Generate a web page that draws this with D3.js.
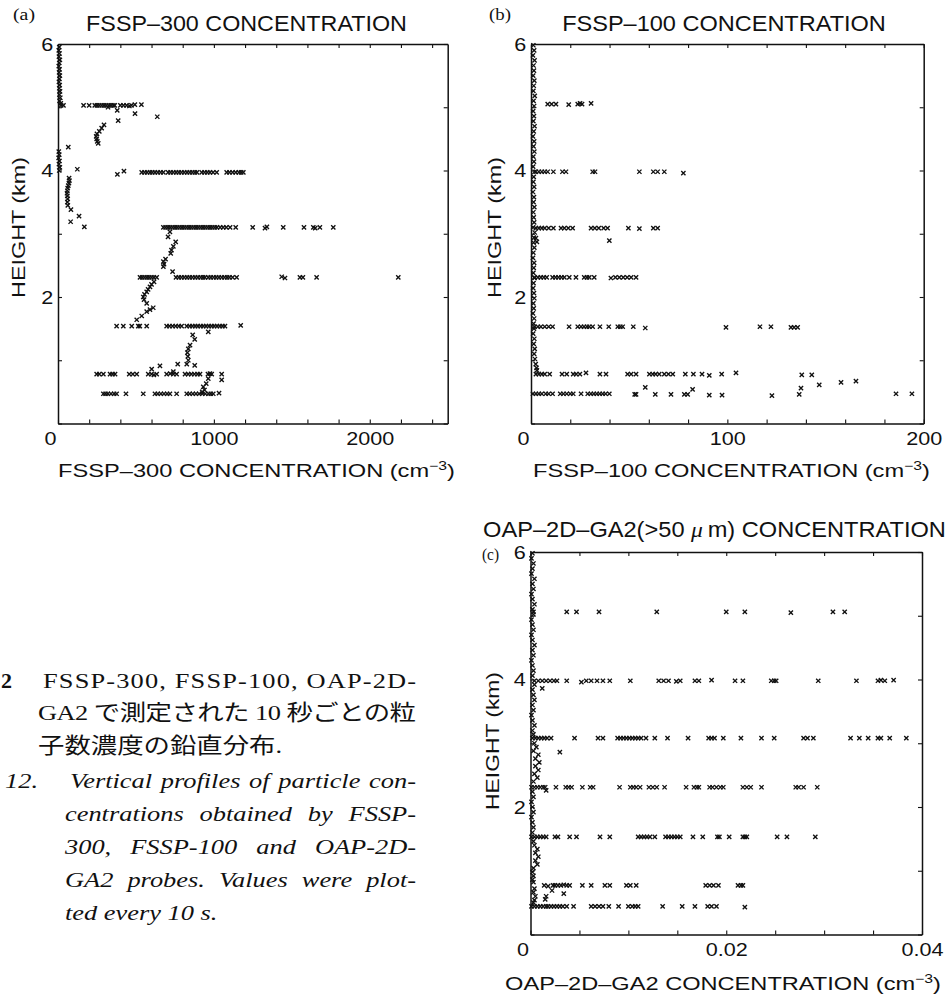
<!DOCTYPE html>
<html><head><meta charset="utf-8">
<script src="https://cdn.jsdelivr.net/npm/d3@7"></script>
<style>html,body{margin:0;padding:0;background:#fff}</style>
</head><body>
<svg id="chart" width="952" height="996"></svg>
<script>
// ---------------- DATA ----------------
const heightTicks = [0, 1, 2, 3, 4, 5, 6];
const heightLabels = [2, 4, 6];
const fssp300Ticks = [0, 200, 400, 600, 800, 1000, 1200, 1400, 1600, 1800, 2000, 2200, 2400];
const fssp300Labels = [0, 1000, 2000];
const fssp100Ticks = [0, 20, 40, 60, 80, 100, 120, 140, 160, 180, 200];
const fssp100Labels = [0, 100, 200];
const oapTicks = [0, 0.005, 0.01, 0.015, 0.02, 0.025, 0.03, 0.035, 0.04];
const oapLabels = [0, 0.02, 0.04];

// [concentration, height km]
const fssp300Column = [[8,5.95],[5,5.9],[10,5.85],[6,5.8],[12,5.75],[8,5.7],[5,5.65],[10,5.6],[7,5.55],[12,5.5],[9,5.45],[6,5.4],[11,5.35],[8,5.3],[13,5.25],[9,5.2],[15,5.15],[10,5.1],[18,5.06],
  [5,4.3],[8,4.25],[4,4.2],[10,4.15],[6,4.1],[12,4.05],[8,4.0]];
const fssp300Legs = [
  [20,5.03],[35,5.03],[164,5.03],[200,5.03],[236,5.03],[250,5.03],[265,5.03],[280,5.03],[295,5.03],[310,5.03],[325,5.03],[340,5.03],[355,5.03],[364,5.03],[400,5.03],[420,5.03],[440,5.03],[458,5.02],[471,5.03],[493,5.04],[535,5.04],
  [537,3.97],[555,3.97],[572,3.97],[590,3.97],[605,3.97],[622,3.97],[640,3.97],[658,3.97],[676,3.97],[706,3.97],[722,3.97],[740,3.97],[758,3.97],[775,3.97],[792,3.97],[810,3.97],[828,3.97],[845,3.97],[862,3.97],[878,3.97],[892,3.97],[922,3.97],[940,3.97],[958,3.97],[975,3.97],[995,3.97],[1018,3.97],[1082,3.97],[1100,3.97],[1120,3.97],[1140,3.97],[1160,3.97],[1175,3.97],[1189,3.97],
  [676,3.1],[690,3.1],[705,3.1],[720,3.1],[735,3.1],[750,3.1],[765,3.1],[780,3.1],[795,3.1],[810,3.1],[825,3.1],[840,3.1],[855,3.1],[870,3.1],[885,3.1],[900,3.1],[915,3.1],[930,3.1],[945,3.1],[960,3.1],[975,3.1],[990,3.1],[1005,3.1],[1020,3.1],[1040,3.1],[1060,3.1],[1080,3.1],[1104,3.1],[1140,3.1],[1249,3.1],[1328,3.09],[1340,3.11],[1445,3.1],[1578,3.1],[1638,3.1],[1650,3.09],[1680,3.1],[1766,3.1],
  [526,2.31],[540,2.31],[555,2.31],[570,2.31],[585,2.31],[600,2.31],[615,2.31],[633,2.31],[757,2.31],[775,2.31],[792,2.31],[810,2.31],[828,2.31],[845,2.31],[862,2.31],[880,2.31],[897,2.31],[915,2.31],[930,2.31],[943,2.31],[964,2.31],[980,2.31],[998,2.31],[1015,2.31],[1032,2.31],[1050,2.31],[1068,2.31],[1085,2.31],[1100,2.31],[1120,2.31],[1146,2.31],[1435,2.32],[1456,2.3],[1552,2.31],[1571,2.31],[1659,2.31],[2183,2.31],
  [376,1.54],[419,1.54],[473,1.54],[515,1.54],[525,1.54],[569,1.54],[697,1.54],[715,1.54],[735,1.54],[755,1.54],[775,1.54],[793,1.54],[826,1.54],[845,1.54],[862,1.54],[880,1.54],[897,1.54],[915,1.54],[932,1.54],[950,1.54],[968,1.54],[985,1.54],[1002,1.54],[1020,1.54],[1038,1.54],[1055,1.54],[1071,1.54],[1172,1.55],
  [248,0.78],[265,0.78],[291,0.78],[334,0.78],[350,0.78],[366,0.78],[457,0.78],[480,0.78],[505,0.78],[579,0.78],[600,0.78],[615,0.77],[633,0.78],[697,0.78],[720,0.79],[740,0.78],[761,0.78],[815,0.78],[835,0.78],[855,0.78],[875,0.78],[895,0.78],[911,0.78],[962,0.78],[975,0.79],[986,0.78],[1050,0.78],
  [291,0.47],[305,0.47],[320,0.47],[340,0.47],[360,0.47],[376,0.47],[436,0.47],[547,0.47],[622,0.47],[640,0.47],[660,0.47],[680,0.47],[700,0.47],[718,0.47],[761,0.47],[826,0.47],[845,0.47],[865,0.47],[885,0.47],[905,0.47],[925,0.47],[945,0.47],[965,0.47],[980,0.47],[996,0.47],[1033,0.48]];
const fssp300Profile = [
  [321,5.0],[380,4.95],[494,4.9],[637,4.85],[386,4.79],
  [295,4.72],[280,4.67],[265,4.62],[250,4.58],[245,4.54],[248,4.5],[252,4.46],[258,4.43],
  [66,4.37],[124,4.02],[381,3.94],[423,3.99],
  [71,3.88],[73,3.84],[70,3.80],[66,3.76],[62,3.72],[60,3.68],[58,3.64],[60,3.6],[62,3.55],[60,3.5],[63,3.45],[83,3.38],[135,3.28],[81,3.19],[169,3.11],
  [718,3.03],[706,2.95],[755,2.87],[740,2.8],[728,2.74],[723,2.69],[690,2.6],[676,2.56],[680,2.52],[676,2.48],[735,2.40],
  [616,2.24],[600,2.2],[590,2.16],[578,2.12],[569,2.08],[555,2.04],[547,2.0],[552,1.96],[569,1.9],[611,1.83],[590,1.8],[569,1.77],[537,1.7],[505,1.64],
  [964,1.45],[864,1.40],[877,1.33],[847,1.24],[836,1.18],[830,1.12],[833,1.06],[836,1.0],[826,0.94],[877,0.92],[768,0.94],[654,0.91],[601,0.86],[740,0.82],
  [1050,0.69],[964,0.71],[951,0.63],[932,0.58],[940,0.53],[925,0.5]];

const fssp100Column = [[1.2,5.98],[1.6,5.9],[1.0,5.82],[1.8,5.74],[1.3,5.66],[1.5,5.58],[1.1,5.5],[1.7,5.42],[1.4,5.34],[1.2,5.26],[1.9,5.18],[1.3,5.1],[1.6,5.02],[1.1,4.94],[1.5,4.86],[1.2,4.78],[1.8,4.7],[1.4,4.62],[1.0,4.54],[1.6,4.46],[1.3,4.38],[1.7,4.3],[1.2,4.22],[1.5,4.14],[1.1,4.06],[1.8,3.98],[1.4,3.9],[1.2,3.82],[1.6,3.74],[1.0,3.66],[1.5,3.58],[1.3,3.5],[1.7,3.42],[1.2,3.34],[1.4,3.26],[1.6,3.18],[1.1,3.1],[1.9,3.02],[1.5,2.94],[1.3,2.86],[1.7,2.78],[1.2,2.7],[1.0,2.62],[1.6,2.54],[1.4,2.46],[1.2,2.38],[1.8,2.3],[1.3,2.22],[1.1,2.14],[1.5,2.06],[1.7,1.98],[1.2,1.9],[1.4,1.82],[1.0,1.74],[1.6,1.66],[1.3,1.58],[1.5,1.5],[1.1,1.42],[1.7,1.34],[1.4,1.26],[1.9,1.18],[1.6,1.1],[2.0,1.02],[2.4,0.94],[2.8,0.88],[3.0,0.84],[2.5,2.93],[3.0,2.87]];
const fssp100Legs = [
  [8.5,5.05],[10.5,5.05],[12.7,5.05],[19.2,5.04],[23.8,5.05],[25,5.06],[26,5.05],[30.6,5.06],
  [2.5,3.98],[4,3.98],[5.5,3.98],[7,3.98],[8.5,3.98],[11.4,3.98],[16,3.98],[17.8,3.98],[31.4,3.98],[32.6,3.98],[55.2,3.98],[62.3,3.98],[64.5,3.98],[67.9,3.98],[77.6,3.96],
  [2.5,3.09],[4,3.09],[5.5,3.09],[7,3.09],[9,3.09],[11.4,3.09],[15.3,3.09],[17,3.09],[19,3.09],[21.2,3.09],[30.6,3.09],[32.5,3.09],[34.5,3.09],[37,3.09],[39,3.09],[49.6,3.09],[55.2,3.08],[62.3,3.09],[64.5,3.09],[39.9,2.89],
  [1.7,2.31],[3.5,2.31],[5,2.31],[6.5,2.31],[8,2.31],[11,2.31],[12.5,2.31],[14,2.31],[15.5,2.31],[17,2.31],[19.5,2.31],[22.9,2.31],[27.1,2.31],[28.5,2.31],[29.7,2.31],[32.2,2.31],[40.7,2.3],[43,2.31],[45,2.31],[47,2.31],[49,2.31],[51,2.31],[53.5,2.31],
  [1.7,1.53],[3.5,1.53],[5,1.53],[7,1.53],[9,1.53],[11,1.53],[19.4,1.53],[23.8,1.53],[25.5,1.53],[27,1.53],[28.5,1.53],[29.7,1.53],[31.4,1.53],[35.1,1.53],[39.6,1.53],[44.2,1.53],[45.5,1.53],[46.7,1.53],[52.1,1.53],[58.2,1.51],[99.3,1.52],[116.6,1.53],[122.2,1.53],[132.4,1.52],[134,1.52],[135.8,1.52],
  [2.5,0.78],[4,0.78],[5.5,0.78],[7,0.78],[9.5,0.78],[15.8,0.78],[18.2,0.78],[21.5,0.78],[23,0.78],[24.9,0.78],[28,0.8],[35.1,0.78],[38.2,0.78],[49.2,0.78],[51,0.78],[53.5,0.78],[60.3,0.78],[62,0.78],[63.5,0.78],[65.3,0.78],[67.9,0.78],[70,0.78],[72.2,0.78],[78.6,0.78],[82.7,0.78],[87.1,0.78],[90.8,0.76],[97.1,0.78],[104.4,0.8],[137.9,0.77],[143,0.77],[146.8,0.61],[157.9,0.65],[165.5,0.67],
  [1,0.47],[2.5,0.47],[4,0.47],[5.5,0.47],[7.5,0.47],[9,0.47],[11,0.47],[14.9,0.47],[16.5,0.47],[18.2,0.47],[20,0.47],[21.5,0.47],[25.5,0.47],[28.9,0.47],[30.5,0.47],[32,0.47],[33.5,0.47],[35,0.47],[36.5,0.47],[38,0.47],[39.9,0.47],[52.8,0.46],[53.5,0.46],[58.2,0.57],[63.3,0.46],[71.3,0.46],[78.1,0.46],[79.8,0.46],[82.3,0.54],[90.8,0.45],[97.3,0.45],[122.7,0.44],[136.6,0.46],[137.5,0.56],[185.9,0.47],[194,0.47]];

const oapColumn = [[0.0002,5.98],[0.0001,5.9],[0.0003,5.82],[0.0002,5.74],[0.0001,5.66],[0.0004,5.58],[0.0002,5.5],[0.0003,5.42],[0.0001,5.34],[0.0002,5.26],[0.0004,5.18],[0.0002,5.1],[0.0003,5.02],[0.0001,4.94],[0.0002,4.86],[0.0003,4.78],[0.0001,4.7],[0.0002,4.62],[0.0004,4.54],[0.0002,4.46],[0.0003,4.38],[0.0001,4.3],[0.0002,4.22],[0.0003,4.14],[0.0002,4.06],[0.0004,3.92],[0.0002,3.84],[0.0003,3.76],[0.0004,3.68],[0.0002,3.6],[0.0003,3.52],[0.0001,3.44],[0.0002,3.36],[0.0004,3.28],[0.0002,3.2],[0.0003,3.14],[0.0004,3.0],[0.0006,2.94],[0.0003,2.88],[0.0008,2.82],[0.0005,2.76],[0.0009,2.7],[0.0005,2.64],[0.0008,2.58],[0.0004,2.52],[0.0007,2.46],[0.0003,2.4],[0.0002,2.24],[0.0003,2.16],[0.0001,2.08],[0.0002,2.0],[0.0003,1.92],[0.0001,1.84],[0.0002,1.76],[0.0003,1.68],[0.0002,1.6],[0.0003,1.46],[0.0004,1.4],[0.0007,1.34],[0.0005,1.28],[0.0008,1.22],[0.0005,1.16],[0.0007,1.1],[0.0003,1.04],[0.0002,0.98],[0.0003,0.92],[0.0002,0.86],[0.0003,0.82],[0.0004,0.72],[0.0003,0.66],[0.0005,0.6],[0.0004,0.54],[0.0003,0.5]];
const oapLegs = [
  [0.0003,5.06],[0.0037,5.06],[0.0047,5.06],[0.007,5.06],[0.0129,5.06],[0.02,5.06],[0.0219,5.06],[0.0266,5.05],[0.0309,5.06],[0.0321,5.06],
  [0.0004,3.98],[0.0008,3.98],[0.0012,3.98],[0.0016,3.98],[0.002,3.98],[0.0024,3.98],[0.0027,3.98],[0.0037,3.98],[0.0052,3.96],[0.0057,3.98],[0.0062,3.98],[0.0068,3.98],[0.0074,3.98],[0.0081,3.98],[0.0102,3.98],[0.0131,3.98],[0.0136,3.98],[0.0141,3.98],[0.0149,3.97],[0.0153,3.98],[0.0168,3.98],[0.0172,3.98],[0.0185,3.99],[0.0209,3.98],[0.0217,3.98],[0.0246,3.98],[0.0249,3.98],[0.0251,3.98],[0.0294,3.98],[0.0333,3.98],[0.0355,3.98],[0.0358,3.99],[0.0362,3.98],[0.0371,3.99],[0.0012,3.86],
  [0.0002,3.08],[0.0005,3.08],[0.0008,3.08],[0.0011,3.08],[0.0014,3.08],[0.0017,3.08],[0.0021,3.08],[0.0045,3.08],[0.0069,3.08],[0.0074,3.08],[0.0089,3.08],[0.0092,3.08],[0.0095,3.08],[0.0098,3.08],[0.0101,3.08],[0.0104,3.08],[0.0107,3.08],[0.011,3.08],[0.0113,3.08],[0.0118,3.08],[0.0127,3.08],[0.014,3.08],[0.0161,3.08],[0.0182,3.08],[0.0185,3.08],[0.0188,3.08],[0.0197,3.08],[0.0215,3.08],[0.0236,3.08],[0.0249,3.08],[0.0279,3.08],[0.0283,3.08],[0.0289,3.08],[0.0327,3.08],[0.0336,3.08],[0.0345,3.08],[0.0355,3.08],[0.0358,3.08],[0.0367,3.08],[0.0384,3.08],[0.003,2.86],
  [0.0001,2.31],[0.0004,2.31],[0.0007,2.31],[0.001,2.31],[0.0013,2.31],[0.0015,2.31],[0.0016,2.26],[0.0026,2.31],[0.0036,2.31],[0.0039,2.31],[0.0042,2.31],[0.0053,2.31],[0.0061,2.31],[0.0064,2.31],[0.0091,2.31],[0.0102,2.31],[0.0105,2.31],[0.0108,2.31],[0.0112,2.31],[0.0121,2.31],[0.0125,2.31],[0.0129,2.31],[0.0137,2.31],[0.0159,2.31],[0.0167,2.31],[0.017,2.31],[0.0172,2.31],[0.0183,2.31],[0.0186,2.31],[0.019,2.31],[0.0194,2.31],[0.0197,2.31],[0.0217,2.31],[0.0221,2.31],[0.0225,2.31],[0.0236,2.31],[0.0271,2.31],[0.0274,2.31],[0.0279,2.31],[0.0293,2.31],
  [0.0001,1.53],[0.0004,1.53],[0.0007,1.53],[0.001,1.53],[0.0013,1.53],[0.0016,1.53],[0.0025,1.53],[0.0028,1.53],[0.004,1.53],[0.0047,1.53],[0.0071,1.53],[0.0081,1.53],[0.011,1.53],[0.0113,1.53],[0.0116,1.53],[0.0119,1.53],[0.0122,1.53],[0.0127,1.53],[0.0138,1.53],[0.0141,1.53],[0.0144,1.53],[0.0147,1.53],[0.015,1.53],[0.0153,1.53],[0.0166,1.53],[0.0176,1.53],[0.0191,1.53],[0.0193,1.53],[0.0203,1.53],[0.0217,1.53],[0.0219,1.53],[0.0221,1.53],[0.0252,1.53],[0.0262,1.53],[0.0291,1.53],
  [0.0014,0.77],[0.0018,0.76],[0.0023,0.77],[0.0025,0.77],[0.0028,0.77],[0.0031,0.77],[0.0034,0.78],[0.0037,0.77],[0.004,0.77],[0.0053,0.77],[0.0062,0.77],[0.0076,0.77],[0.0081,0.77],[0.0098,0.77],[0.0102,0.77],[0.0108,0.77],[0.0179,0.77],[0.0183,0.77],[0.0187,0.77],[0.0192,0.77],[0.0212,0.77],[0.0215,0.77],[0.0217,0.77],[0.0022,0.69],[0.0034,0.64],
  [0.0001,0.44],[0.0004,0.44],[0.0007,0.44],[0.001,0.44],[0.0013,0.44],[0.0016,0.44],[0.0018,0.44],[0.0021,0.44],[0.0024,0.44],[0.0027,0.44],[0.003,0.44],[0.0033,0.44],[0.0037,0.44],[0.0044,0.44],[0.0062,0.44],[0.0066,0.44],[0.007,0.44],[0.0074,0.44],[0.008,0.44],[0.009,0.44],[0.01,0.44],[0.0104,0.44],[0.0107,0.44],[0.011,0.44],[0.0135,0.44],[0.0155,0.44],[0.0168,0.44],[0.0181,0.44],[0.0185,0.44],[0.019,0.44],[0.0219,0.43],[0.0015,0.55],[0.0016,0.6]];

// ---------------- DRAWING ----------------
const svg = d3.select('#chart');
const SANS = "'Liberation Sans', Arial, Helvetica, sans-serif";
const SERIF = "'Liberation Serif', 'Times New Roman', 'Noto Sans CJK JP', serif";
const INK = '#111';

const timesMark = { draw(ctx, size) { const r = Math.sqrt(size) / 2; ctx.moveTo(-r, -r); ctx.lineTo(r, r); ctx.moveTo(-r, r); ctx.lineTo(r, -r); } };
const markPath = d3.symbol().type(timesMark).size(18)();

// text drawn at (x,y), stretched horizontally to a given width
function fitText(parent, x, y, width, build, opts = {}) {
  const g = parent.append('g');
  const t = g.append('text').attr('text-anchor', opts.anchor || 'middle')
    .attr('font-family', opts.family || SANS).attr('font-size', opts.size || 18).attr('fill', INK);
  build(t);
  const nat = t.node().getComputedTextLength();
  const sx = width ? width / nat : (opts.sx || 1.2);
  g.attr('transform', `translate(${x},${y}) rotate(${opts.rotate || 0}) scale(${sx},1)`);
  return t;
}

const panels = [
  { id: 'a', x0: 58, x1: 447.7, y0: 44, y1: 423.5, domain: [0, 2500], ticks: fssp300Ticks, labels: fssp300Labels,
    series: [fssp300Column, fssp300Legs, fssp300Profile] },
  { id: 'b', x0: 531, x1: 923.7, y0: 44, y1: 423.5, domain: [0, 200], ticks: fssp100Ticks, labels: fssp100Labels,
    series: [fssp100Column, fssp100Legs] },
  { id: 'c', x0: 530.5, x1: 922, y0: 552, y1: 934.5, domain: [0, 0.04], ticks: oapTicks, labels: oapLabels,
    series: [oapColumn, oapLegs] }
];

panels.forEach(p => {
  const x = d3.scaleLinear().domain(p.domain).range([p.x0, p.x1]);
  const y = d3.scaleLinear().domain([0, 6]).range([p.y1, p.y0]);
  const g = svg.append('g');

  // points
  p.series.forEach(s => {
    g.append('g').selectAll('path').data(s).join('path')
      .attr('d', markPath)
      .attr('transform', d => `translate(${x(d[0])},${y(d[1])})`)
      .attr('fill', 'none').attr('stroke', INK).attr('stroke-width', 1.35);
  });

  const styleAxis = a => {
    a.attr('font-family', SANS).attr('font-size', 18);
    a.select('.domain').attr('stroke', INK).attr('stroke-width', 1.5);
    a.selectAll('.tick line').attr('stroke', INK).attr('stroke-width', 1.1);
    a.selectAll('.tick text').attr('fill', INK);
  };

  const bottom = g.append('g').attr('transform', `translate(0,${p.y1})`)
    .call(d3.axisBottom(x).tickValues(p.ticks).tickSize(-4).tickSizeOuter(0)
      .tickFormat(d => p.labels.includes(d) ? String(d) : ''));
  styleAxis(bottom);
  bottom.selectAll('.tick text').attr('y', 22).attr('dy', 0)
    .attr('x', d => d === 0 ? -8 / 1.2 : 0).attr('transform', 'scale(1.2,1)');

  const top = g.append('g').attr('transform', `translate(0,${p.y0})`)
    .call(d3.axisTop(x).tickValues(p.ticks).tickSize(-4).tickSizeOuter(0).tickFormat(() => ''));
  styleAxis(top);

  const left = g.append('g').attr('transform', `translate(${p.x0},0)`)
    .call(d3.axisLeft(y).tickValues(heightTicks).tickSize(-4).tickSizeOuter(0).tickPadding(4)
      .tickFormat(d => heightLabels.includes(d) ? String(d) : ''));
  styleAxis(left);
  left.selectAll('.tick text').attr('dy', '0.36em').attr('transform', 'scale(1.2,1)');

  const right = g.append('g').attr('transform', `translate(${p.x1},0)`)
    .call(d3.axisRight(y).tickValues(heightTicks).tickSize(-4).tickSizeOuter(0).tickFormat(() => ''));
  styleAxis(right);
});

// titles
fitText(svg, 246.5, 30.5, 321, t => t.text('FSSP–300 CONCENTRATION'), { size: 22 });
fitText(svg, 724, 30.5, 324, t => t.text('FSSP–100 CONCENTRATION'), { size: 22 });
fitText(svg, 714.5, 537, 463, t => {
  t.append('tspan').text('OAP–2D–GA2(>50 ');
  t.append('tspan').attr('font-family', SERIF).attr('font-style', 'italic').text('μ');
  t.append('tspan').text('\u2009m) CONCENTRATION');
}, { size: 22 });

// x-axis labels
function unitLabel(name) {
  return t => {
    t.append('tspan').text(name + ' CONCENTRATION (cm');
    t.append('tspan').attr('font-size', 12).attr('dy', -7).text('−3');
    t.append('tspan').attr('dy', 7).text(')');
  };
}
fitText(svg, 256.5, 477, 397, unitLabel('FSSP–300'), { size: 18 });
fitText(svg, 731.5, 477, 397, unitLabel('FSSP–100'), { size: 18 });
fitText(svg, 723, 990, 436, unitLabel('OAP–2D–GA2'), { size: 18 });

// y-axis labels
fitText(svg, 25, 227.5, 141, t => t.text('HEIGHT (km)'), { size: 18, rotate: -90 });
fitText(svg, 501, 227.5, 141, t => t.text('HEIGHT (km)'), { size: 18, rotate: -90 });
fitText(svg, 498.5, 741, 138, t => t.text('HEIGHT (km)'), { size: 18, rotate: -90 });

// panel letters
fitText(svg, 13, 20, 22, t => t.text('(a)'), { size: 16, family: SERIF, anchor: 'start' });
fitText(svg, 489, 20, 22, t => t.text('(b)'), { size: 16, family: SERIF, anchor: 'start' });
fitText(svg, 482, 560, 17, t => t.text('(c)'), { size: 16, family: SERIF, anchor: 'start' });

// caption
const SX = 1.2, RIGHT = 416;
const cap = svg.append('g').attr('font-family', SERIF).attr('font-size', 22).attr('fill', INK);
function capLine(x0, y, txt, opts = {}) {
  const g = cap.append('g').attr('transform', `translate(${x0},${y}) scale(${opts.sx || SX},1)`);
  const t = g.append('text').text(txt);
  if (opts.italic) t.attr('font-style', 'italic');
  if (opts.bold) t.attr('font-weight', 'bold');
  if (opts.justify) {
    const target = (RIGHT - x0) / SX;
    if (opts.justify === 'letters') {
      t.attr('textLength', target).attr('lengthAdjust', 'spacing');
    } else {
      const nat = t.node().getComputedTextLength();
      const n = (txt.match(/ /g) || []).length;
      if (n) t.style('word-spacing', ((target - nat) / n) + 'px');
    }
  }
  return t;
}
capLine(1, 688, '2', { bold: true, sx: 1.0 });
capLine(43, 688, 'FSSP-300, FSSP-100, OAP-2D-', { justify: 'letters' });
capLine(38, 720, 'GA2 で測定された 10 秒ごとの粒', { justify: 'letters' });
capLine(38, 753, '子数濃度の鉛直分布.');
capLine(5, 788, '12.', { italic: true });
capLine(70, 788, 'Vertical profiles of particle con-', { italic: true, justify: 'words' });
capLine(65, 821, 'centrations obtained by FSSP-', { italic: true, justify: 'words' });
capLine(65, 854, '300, FSSP-100 and OAP-2D-', { italic: true, justify: 'words' });
capLine(65, 887, 'GA2 probes. Values were plot-', { italic: true, justify: 'words' });
capLine(65, 920, 'ted every 10 s.', { italic: true });
</script>
</body></html>
